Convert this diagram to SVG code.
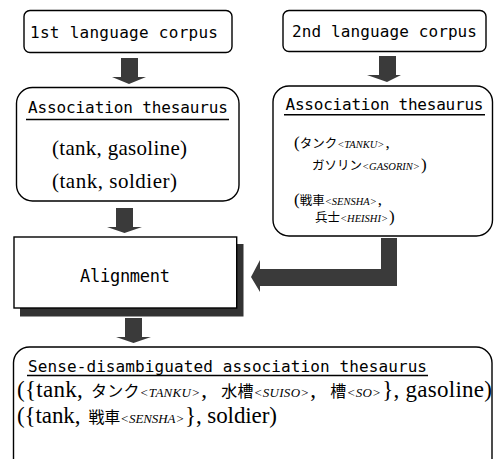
<svg xmlns="http://www.w3.org/2000/svg" width="494" height="459" viewBox="0 0 494 459">
  <style>
    .box { fill: #ffffff; stroke: #000000; stroke-width: 1.4; }
    .shadow { fill: #333333; }
    .arrow { fill: #3a3a3a; }
    .uline { stroke: #000000; stroke-width: 1.6; }
    .sans { font-family: "DejaVu Sans Mono", "Liberation Mono", monospace; fill: #000000; }
    .serif { font-family: "Liberation Serif", "Noto Sans CJK JP", serif; fill: #000000; }
    .jp { font-family: "Noto Sans CJK JP", sans-serif; }
    .rom { font-family: "Liberation Serif", serif; font-style: italic; }
    .s { font-size: 12.5px; }
    .r { font-size: 10.5px; }
    .bj { font-size: 16px; }
    .br { font-size: 13px; }
  </style>
  <rect width="494" height="459" fill="#ffffff"/>

  <!-- block arrows between stages -->
  <g id="connectors">
    <polygon class="arrow" points="121,58 138,58 138,77 146,77 129,84 112,77 121,77"/>
    <polygon class="arrow" points="379,56 396,56 396,75 401,75 387,82 367,75 379,75"/>
    <polygon class="arrow" points="116,208 133,208 133,227 142,227 124.5,233 107,227 116,227"/>
    <polygon class="arrow" points="125,318 142,318 142,337 151,337 133.5,343 116,337 125,337"/>
    <polygon class="arrow" points="381,238 397,238 397,286 260,286 260,292 251,277 260,260 260,269 381,269"/>
  </g>

  <g id="corpus-l1">
    <rect class="box" x="24" y="10.5" width="208" height="42" rx="6"/>
    <text class="sans" x="30" y="38" font-size="16" textLength="188" lengthAdjust="spacing">1st language corpus</text>
  </g>

  <g id="corpus-l2">
    <rect class="box" x="283" y="10.5" width="203" height="41" rx="6"/>
    <text class="sans" x="292" y="37" font-size="16" textLength="185" lengthAdjust="spacing">2nd language corpus</text>
  </g>

  <g id="thesaurus-l1">
    <rect class="box" x="16.5" y="87.5" width="222.5" height="113.5" rx="16"/>
    <text class="sans" x="28" y="112.5" font-size="16" textLength="200" lengthAdjust="spacing">Association thesaurus</text>
    <line class="uline" x1="26" y1="119.5" x2="229" y2="119.5"/>
    <text class="serif" x="52" y="155" font-size="21" textLength="135" lengthAdjust="spacing">(tank, gasoline)</text>
    <text class="serif" x="52" y="188" font-size="21" textLength="125" lengthAdjust="spacing">(tank, soldier)</text>
  </g>

  <g id="thesaurus-l2">
    <rect class="box" x="273" y="86" width="219.5" height="150" rx="16"/>
    <text class="sans" x="285.5" y="110" font-size="16" textLength="198" lengthAdjust="spacing">Association thesaurus</text>
    <line class="uline" x1="284" y1="114.7" x2="485" y2="114.7"/>
    <text class="serif" x="294" y="148" font-size="17">(<tspan class="jp s">タンク</tspan><tspan class="rom r">&lt;TANKU&gt;</tspan><tspan dx="1">,</tspan></text>
    <text class="serif" x="312" y="170" font-size="17"><tspan class="jp s">ガソリン</tspan><tspan class="rom r">&lt;GASORIN&gt;</tspan><tspan dx="1">)</tspan></text>
    <text class="serif" x="294" y="205" font-size="17">(<tspan class="jp s">戦車</tspan><tspan class="rom r">&lt;SENSHA&gt;</tspan><tspan dx="1">,</tspan></text>
    <text class="serif" x="315" y="222" font-size="17"><tspan class="jp s">兵士</tspan><tspan class="rom r">&lt;HEISHI&gt;</tspan><tspan dx="1">)</tspan></text>
  </g>

  <g id="alignment">
    <rect class="shadow" x="20" y="244" width="223.5" height="72.5"/>
    <rect class="box" x="14" y="237" width="222.7" height="71"/>
    <text class="sans" x="80" y="281.5" font-size="17" textLength="90" lengthAdjust="spacing">Alignment</text>
  </g>

  <g id="disambiguated-thesaurus">
    <rect class="box" x="13.5" y="347" width="478.5" height="140" rx="16"/>
    <text class="sans" x="28" y="371.5" font-size="16" textLength="399" lengthAdjust="spacing">Sense-disambiguated association thesaurus</text>
    <line class="uline" x1="27" y1="375.5" x2="428" y2="375.5"/>
    <text class="serif" x="17" y="397" font-size="23" textLength="475" lengthAdjust="spacing">({tank,<tspan class="jp bj" dx="8">タンク</tspan><tspan class="rom br">&lt;TANKU&gt;</tspan><tspan dx="1">,</tspan><tspan class="jp bj" dx="14">水槽</tspan><tspan class="rom br">&lt;SUISO&gt;</tspan><tspan dx="1">,</tspan><tspan class="jp bj" dx="14">槽</tspan><tspan class="rom br">&lt;SO&gt;</tspan><tspan dx="1">}, gasoline)</tspan></text>
    <text class="serif" x="17" y="423" font-size="23" textLength="260" lengthAdjust="spacing">({tank,<tspan class="jp bj" dx="8">戦車</tspan><tspan class="rom br">&lt;SENSHA&gt;</tspan><tspan dx="1">}, soldier)</tspan></text>
  </g>
</svg>
